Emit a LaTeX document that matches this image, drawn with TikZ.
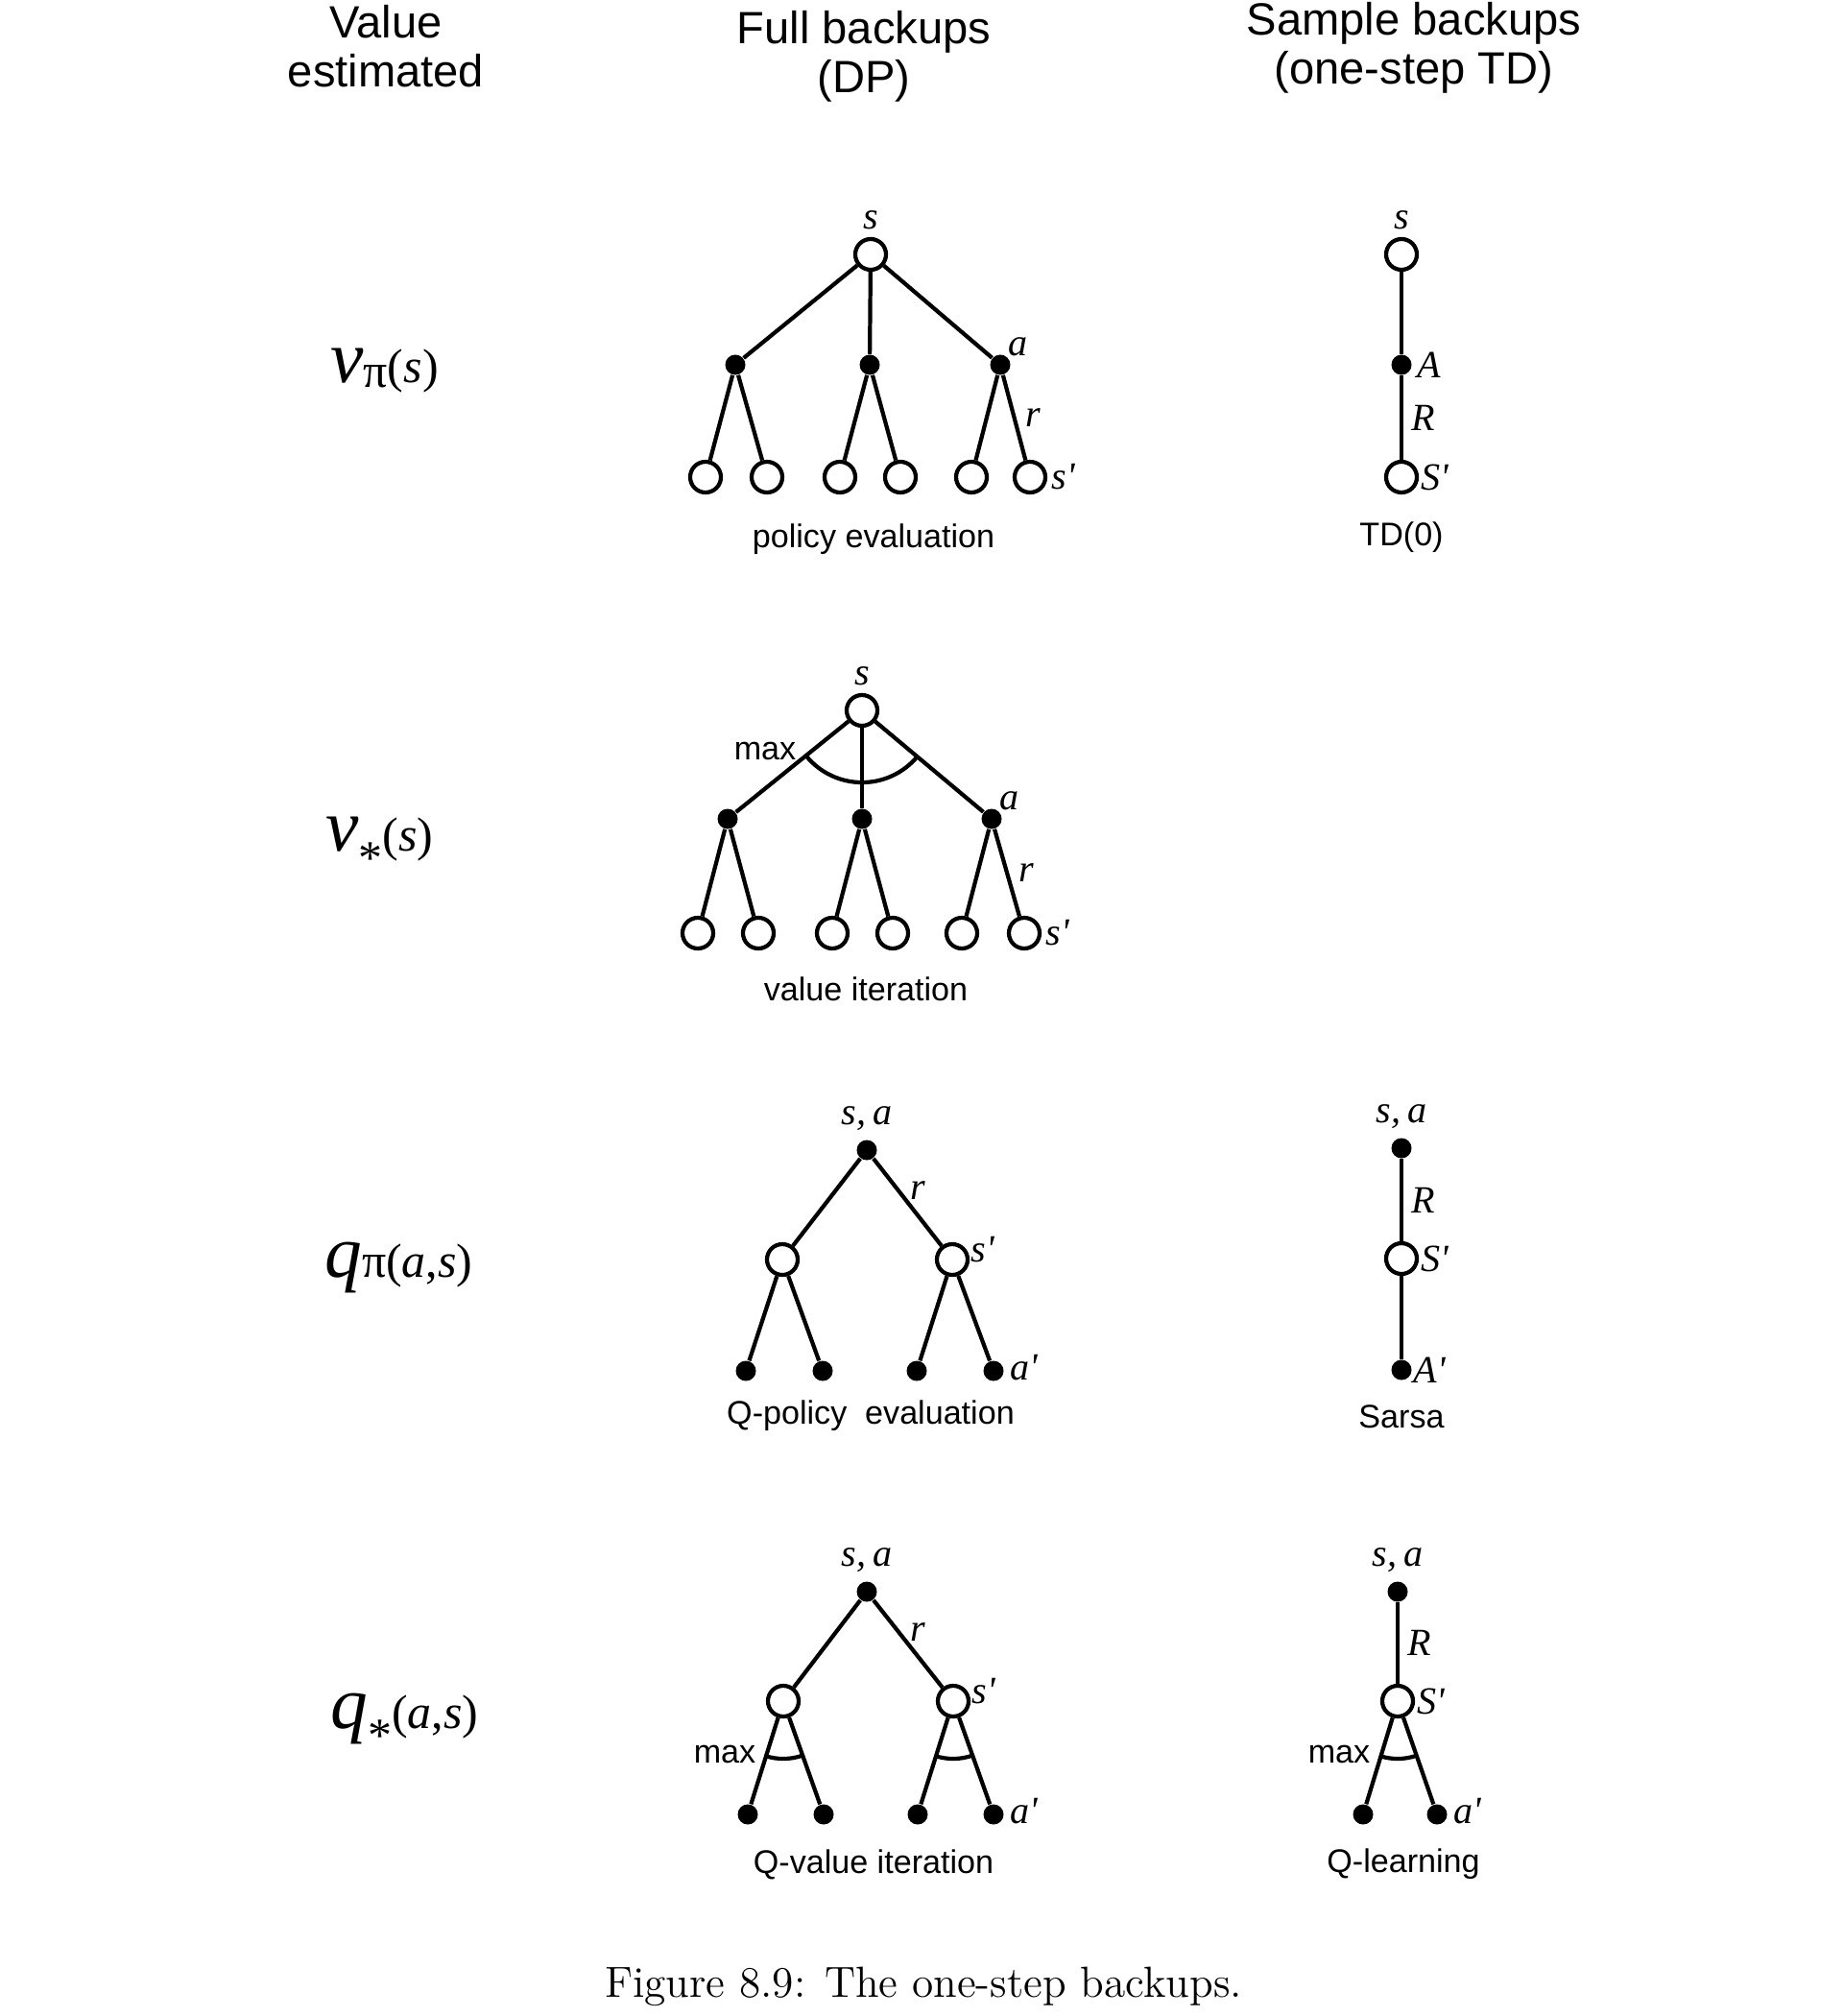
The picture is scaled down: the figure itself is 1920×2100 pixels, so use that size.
\documentclass[tikz,border=0pt]{standalone}
\usepackage{fontspec}
\usetikzlibrary{positioning,angles}
\newfontfamily\hv{Liberation Sans}
\newfontfamily\tm{Liberation Serif}
\newcommand{\pr}{\textquotesingle}
\newcommand{\fnc}[3]{{\tm\fontsize{22}{22}\selectfont\itshape #1}{\tm\fontsize{14.2}{15}\selectfont #2(#3)}}
\tikzset{
  st/.style={circle,draw,line width=1.2pt,fill=white,minimum size=0.32cm,inner sep=0pt},
  ac/.style={circle,fill,minimum size=0.21cm,inner sep=0pt},
  lb/.style={font={\tm\itshape\fontsize{11.4}{12}\selectfont},inner sep=0pt},
  cp/.style={font={\hv\fontsize{9.7}{11}\selectfont}},
  hd/.style={font={\hv\fontsize{13.4}{14.5}\selectfont},align=center},
  ln/.style={line width=1.2pt}
}

\begin{document}
\begin{tikzpicture}[x=0.01cm,y=0.01cm]
\useasboundingbox (0,0) rectangle (1920,-2100);
\node[hd] (hval) at (402,-48) {Value\\estimated};
\node[hd] (hfull) at (900,-59) {Full backups\\(DP)};
\node[hd] (hsamp) at (1473,-50) {Sample backups\\(one-step TD)};

\node[anchor=base west] (vpi) at (332,-398) {\fnc{v}{\raisebox{-0.12em}{π}}{\textit{s}}};
\node[anchor=base west] (vst) at (327,-886) {\fnc{v}{\raisebox{-0.5em}{*}}{\textit{s}}};
\node[anchor=base west] (qpi) at (326,-1330) {\fnc{q}{π}{\textit{a},\textit{s}}};
\node[anchor=base west] (qst) at (332,-1800) {\fnc{q}{\raisebox{-0.5em}{*}}{\textit{a},\textit{s}}};

\node[st] (pe) at (907,-265) {};
\node[ac] (pea1) at (766,-380) {};
\node[ac] (pea2) at (906,-380) {};
\node[ac] (pea3) at (1042,-380) {};
\node[st] (pes1) at (735,-497) {};
\node[st] (pes2) at (799,-497) {};
\node[st] (pes3) at (875,-497) {};
\node[st] (pes4) at (938,-497) {};
\node[st] (pes5) at (1012,-497) {};
\node[st] (pes6) at (1073,-497) {};
\node[lb] (pels) [above=0.07cm of pe] {s};
\node[lb] (pela) [above right=0cm of pea3] {a};
\node[lb] (pelsp) [right=0.04cm of pes6] {s\pr};
\node[cp] (pecap) at (910,-562) {policy evaluation};
\draw[ln] (pe) -- (pea1);
\draw[ln] (pe) -- (pea2);
\draw[ln] (pe) -- (pea3);
\draw[ln] (pea1) -- (pes1);
\draw[ln] (pea1) -- (pes2);
\draw[ln] (pea2) -- (pes3);
\draw[ln] (pea2) -- (pes4);
\draw[ln] (pea3) -- (pes5);
\draw[ln] (pea3) -- node[lb,right=0.1cm] (pelr) {r} (pes6);

\node[st] (td) at (1460,-265) {};
\node[ac] (tda) at (1460,-380) {};
\node[st] (tds) at (1460,-497) {};
\node[lb] (tdls) [above=0.07cm of td] {s};
\node[lb] (tdla) [right=0.05cm of tda] {A};
\node[lb] (tdlsp) [right=0.02cm of tds] {S\pr};
\node[cp] (tdcap) at (1460,-560) {TD(0)};
\draw[ln] (td) -- (tda);
\draw[ln] (tda) -- node[lb,right=0.08cm] (tdlr) {R} (tds);

\node[st] (vi) at (898,-740) {};
\node[ac] (via1) at (758,-853) {};
\node[ac] (via2) at (898,-853) {};
\node[ac] (via3) at (1033,-853) {};
\node[st] (vis1) at (727,-972) {};
\node[st] (vis2) at (790,-972) {};
\node[st] (vis3) at (867,-972) {};
\node[st] (vis4) at (930,-972) {};
\node[st] (vis5) at (1002,-972) {};
\node[st] (vis6) at (1067,-972) {};
\node[lb] (vils) [above=0.07cm of vi] {s};
\node[lb] (vila) [above right=0cm of via3] {a};
\node[lb] (vilsp) [right=0.04cm of vis6] {s\pr};
\node[cp] (vimax) at (797,-782) {max};
\node[cp] (vicap) at (902,-1030) {value iteration};
\draw[ln] (vi) -- (via1);
\draw[ln] (vi) -- (via2);
\draw[ln] (vi) -- (via3);
\draw[ln] (via1) -- (vis1);
\draw[ln] (via1) -- (vis2);
\draw[ln] (via2) -- (vis3);
\draw[ln] (via2) -- (vis4);
\draw[ln] (via3) -- (vis5);
\draw[ln] (via3) -- node[lb,right=0.1cm] (vilr) {r} (vis6);
\pic[draw,ln,angle radius=0.75cm] {angle=via1--vi--via3};

\node[ac] (qp) at (903,-1198) {};
\node[st] (qps1) at (815,-1312) {};
\node[st] (qps2) at (992,-1312) {};
\node[ac] (qpa1) at (777,-1428) {};
\node[ac] (qpa2) at (857,-1428) {};
\node[ac] (qpa3) at (955,-1428) {};
\node[ac] (qpa4) at (1035,-1428) {};
\node[lb] (qpls) [above=0.08cm of qp] {s,\,a};
\node[lb] (qplsp) [right=0.01cm of qps2,yshift=0.1cm] {s\pr};
\node[lb] (qpla) [right=0.06cm of qpa4,yshift=0.03cm] {a\pr};
\node[cp] (qpcap) at (907,-1475) {Q-policy\ \ evaluation};
\draw[ln] (qp) -- (qps1);
\draw[ln] (qp) -- node[lb,above right=0.01cm] (qplr) {r} (qps2);
\draw[ln] (qps1) -- (qpa1);
\draw[ln] (qps1) -- (qpa2);
\draw[ln] (qps2) -- (qpa3);
\draw[ln] (qps2) -- (qpa4);

\node[ac] (sa) at (1460,-1196) {};
\node[st] (sas) at (1460,-1311) {};
\node[ac] (saa) at (1460,-1427) {};
\node[lb] (sals) [above=0.08cm of sa] {s,\,a};
\node[lb] (salsp) [right=0.02cm of sas] {S\pr};
\node[lb] (sala) [right=0.01cm of saa] {A\pr};
\node[cp] (sacap) at (1460,-1476) {Sarsa};
\draw[ln] (sa) -- node[lb,right=0.08cm] (salr) {R} (sas);
\draw[ln] (sas) -- (saa);

\node[ac] (qv) at (903,-1658) {};
\node[st] (qvs1) at (816,-1772) {};
\node[st] (qvs2) at (993,-1772) {};
\node[ac] (qva1) at (779,-1890) {};
\node[ac] (qva2) at (858,-1890) {};
\node[ac] (qva3) at (956,-1890) {};
\node[ac] (qva4) at (1035,-1890) {};
\node[lb] (qvls) [above=0.08cm of qv] {s,\,a};
\node[lb] (qvlsp) [right=0.01cm of qvs2,yshift=0.1cm] {s\pr};
\node[lb] (qvla) [right=0.06cm of qva4,yshift=0.03cm] {a\pr};
\node[cp] (qvmax) at (755,-1827) {max};
\node[cp] (qvcap) at (910,-1942) {Q-value iteration};
\draw[ln] (qv) -- (qvs1);
\draw[ln] (qv) -- node[lb,above right=0.01cm] (qvlr) {r} (qvs2);
\draw[ln] (qvs1) -- (qva1);
\draw[ln] (qvs1) -- (qva2);
\draw[ln] (qvs2) -- (qva3);
\draw[ln] (qvs2) -- (qva4);
\pic[draw,ln,angle radius=0.6cm] {angle=qva1--qvs1--qva2};
\pic[draw,ln,angle radius=0.6cm] {angle=qva3--qvs2--qva4};

\node[ac] (ql) at (1456,-1658) {};
\node[st] (qls) at (1456,-1772) {};
\node[ac] (qla1) at (1420,-1890) {};
\node[ac] (qla2) at (1497,-1890) {};
\node[lb] (qlls) [above=0.08cm of ql] {s,\,a};
\node[lb] (qllsp) [right=0.02cm of qls] {S\pr};
\node[lb] (qlla) [right=0.06cm of qla2,yshift=0.03cm] {a\pr};
\node[cp] (qlmax) at (1395,-1827) {max};
\node[cp] (qlcap) at (1462,-1942) {Q-learning};
\draw[ln] (ql) -- node[lb,right=0.08cm] (qllr) {R} (qls);
\draw[ln] (qls) -- (qla1);
\draw[ln] (qls) -- (qla2);
\pic[draw,ln,angle radius=0.6cm] {angle=qla1--qls--qla2};

\node[font=\fontsize{12.9}{14}\selectfont] (fig) at (962,-2069) {Figure 8.9: The one-step backups.};
\end{tikzpicture}
\end{document}
